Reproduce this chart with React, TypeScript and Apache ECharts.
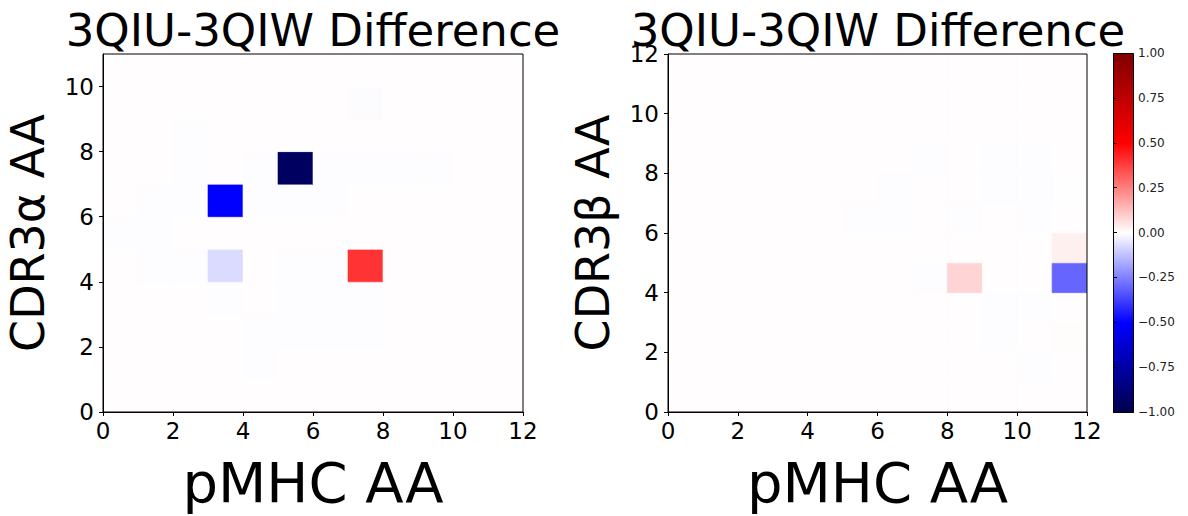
import React, { useEffect, useRef } from "react";
import * as echarts from "echarts";

// ---- data ----
const TITLE = "3QIU-3QIW Difference";
const X_NAME = "pMHC AA";
const Y_NAME_LEFT = "CDR3α AA";
const Y_NAME_RIGHT = "CDR3β AA";

// rows indexed by y (bottom row first), 12 columns (x = 0..11)
const leftMatrix: number[][] = [
  [0.003, 0.003, 0.003, 0.003, 0.003, 0.003, 0.003, 0.003, 0.003, 0.003, 0.003, 0.003],
  [0.003, 0.003, 0.003, 0.003, -0.004, 0.003, 0.003, 0.003, 0.003, 0.003, 0.003, 0.003],
  [0.003, 0.003, 0.003, 0.003, -0.004, -0.004, -0.004, -0.004, 0.003, 0.003, 0.003, 0.003],
  [0.003, 0.003, 0.003, -0.004, 0.003, -0.004, -0.004, -0.004, 0.003, 0.003, 0.003, 0.003],
  [0.003, -0.004, -0.004, -0.07, 0.003, -0.004, -0.004, 0.4, 0.003, 0.003, 0.003, 0.003],
  [-0.004, -0.004, 0.003, 0.003, 0.003, 0.003, 0.003, 0.003, 0.003, 0.003, 0.003, 0.003],
  [0.003, -0.004, -0.004, -0.5, -0.004, -0.004, -0.004, 0.003, 0.003, 0.003, 0.003, 0.003],
  [0.003, 0.003, -0.004, 0.003, -0.003, -0.94, -0.004, -0.004, -0.004, -0.004, 0.003, 0.003],
  [0.003, 0.003, -0.004, 0.003, 0.003, 0.003, 0.003, 0.003, 0.003, 0.003, 0.003, 0.003],
  [0.003, 0.003, 0.003, 0.003, 0.003, 0.003, 0.003, -0.006, 0.003, 0.003, 0.003, 0.003],
  [0.003, 0.003, 0.003, 0.003, 0.003, 0.003, 0.003, 0.003, 0.003, 0.003, 0.003, 0.003],
];

const rightMatrix: number[][] = [
  [0.003, 0.003, 0.003, 0.003, 0.003, 0.003, 0.003, 0.003, 0.003, 0.003, 0.003, 0.003],
  [0.003, 0.003, 0.003, 0.003, 0.003, 0.003, 0.003, 0.003, 0.003, 0.003, -0.004, 0.003],
  [0.003, 0.003, 0.003, 0.003, 0.003, 0.003, 0.003, 0.003, 0.003, -0.004, 0.003, 0.006],
  [0.003, 0.003, 0.003, 0.003, 0.003, 0.003, 0.003, 0.003, 0.003, -0.004, -0.004, 0.003],
  [0.003, 0.003, 0.003, 0.003, 0.003, 0.003, 0.003, -0.004, 0.085, 0.003, 0.003, -0.3],
  [0.003, 0.003, 0.003, 0.003, 0.003, 0.003, 0.003, 0.003, 0.003, 0.003, 0.003, 0.03],
  [0.003, 0.003, 0.003, 0.003, 0.003, -0.004, -0.004, 0.003, -0.004, 0.003, -0.004, 0.003],
  [0.003, 0.003, 0.003, 0.003, 0.003, 0.003, -0.004, 0.003, 0.003, -0.004, -0.004, -0.002],
  [0.003, 0.003, 0.003, 0.003, 0.003, 0.003, 0.003, -0.004, 0.003, -0.004, -0.004, 0.003],
  [0.003, 0.003, 0.003, 0.003, 0.003, 0.003, 0.003, 0.003, 0.003, 0.003, 0.003, 0.003],
  [0.003, 0.003, 0.003, 0.003, 0.003, 0.003, 0.003, 0.003, 0.003, 0.003, 0.003, 0.003],
  [0.003, 0.003, 0.003, 0.003, 0.003, 0.003, 0.003, 0.003, 0.003, 0.003, 0.003, 0.003],
];

const X_MAX = 12;
const LEFT_Y_MAX = 11;
const RIGHT_Y_MAX = 12;
const SEISMIC = ["#00004c", "#0000ff", "#ffffff", "#ff0000", "#7f0000"];
const CBAR_MIN = -1;
const CBAR_MAX = 1;
const CBAR_STEP = 0.25;

const FONT = "DejaVu Sans";

function toTriples(m: number[][]) {
  const out: number[][] = [];
  m.forEach((row, y) => row.forEach((v, x) => out.push([x, y, v])));
  return out;
}

const renderCell = (params: any, api: any) => {
  const x = api.value(0);
  const y = api.value(1);
  const p0 = api.coord([x, y + 1]);
  const p1 = api.coord([x + 1, y]);
  const c = api.visual("color");
  return {
    type: "rect",
    shape: { x: p0[0], y: p0[1], width: p1[0] - p0[0], height: p1[1] - p0[1] },
    style: { fill: c, stroke: c, lineWidth: 0.6 },
  };
};

export default function App() {
  const ref = useRef<HTMLDivElement>(null);
  useEffect(() => {
    if (!ref.current) return;
    const chart = echarts.init(ref.current, null, { renderer: "svg" });

    const tickLabel = { fontFamily: FONT, fontSize: 23, color: "#000" };
    const mkLine = () => ({ show: true, onZero: false, lineStyle: { color: "#000", width: 1 } });
    const mkTick = () => ({ show: true, inside: false, length: 4, lineStyle: { color: "#000", width: 1 } });

    const mkX = (gi: number) => ({
      type: "value", gridIndex: gi, min: 0, max: X_MAX, interval: 2, position: "bottom", z: 10,
      name: X_NAME, nameLocation: "middle", nameGap: 42,
      nameTextStyle: { fontFamily: FONT, fontSize: 56, color: "#000", verticalAlign: "top" },
      axisLine: mkLine(), axisTick: mkTick(), splitLine: { show: false },
      axisLabel: { ...tickLabel, margin: 7 },
    });
    const mkY = (gi: number, max: number, name: string) => ({
      type: "value", gridIndex: gi, min: 0, max, interval: 2, position: "left", z: 10,
      name, nameLocation: "middle", nameGap: 52, nameRotate: 90,
      nameTextStyle: { fontFamily: FONT, fontSize: 46, color: "#000" },
      axisLine: mkLine(), axisTick: mkTick(), splitLine: { show: false },
      axisLabel: { ...tickLabel, margin: 9, showMaxLabel: max % 2 === 0 },
    });

    const titleStyle = { fontFamily: FONT, fontSize: 45, fontWeight: "normal", color: "#000" };
    const frame = { show: true, borderColor: "#000", borderWidth: 1, backgroundColor: "transparent", z: 5 };
    const option: any = {
      animation: false,
      backgroundColor: "#ffffff",
      title: [
        { text: TITLE, left: 308, top: 3, textAlign: "center", textStyle: titleStyle },
        { text: TITLE, left: 873, top: 3, textAlign: "center", textStyle: titleStyle },
      ],
      grid: [
        { left: 103, top: 54, width: 420, height: 358, ...frame },
        { left: 668, top: 54, width: 419, height: 358, ...frame },
        { left: 1113, top: 53, width: 20, height: 359 },
      ],
      xAxis: [
        mkX(0),
        mkX(1),
        { type: "value", gridIndex: 2, min: 0, max: 1, show: false },
      ],
      yAxis: [
        mkY(0, LEFT_Y_MAX, Y_NAME_LEFT),
        mkY(1, RIGHT_Y_MAX, Y_NAME_RIGHT),
        {
          type: "value", gridIndex: 2, min: CBAR_MIN, max: CBAR_MAX, interval: CBAR_STEP, position: "right", z: 10,
          axisLine: { show: false }, splitLine: { show: false },
          axisTick: { show: true, length: 4, lineStyle: { color: "#000", width: 1 } },
          axisLabel: {
            fontFamily: FONT, fontSize: 12, color: "#222", margin: 5,
            formatter: (v: number) => v.toFixed(2).replace("-", "\u2212"),
          },
        },
      ],
      visualMap: {
        type: "continuous", show: false, min: CBAR_MIN, max: CBAR_MAX, dimension: 2,
        seriesIndex: [0, 1], inRange: { color: SEISMIC },
      },
      graphic: [
        {
          type: "rect", left: 1113, top: 53, z: 5,
          shape: { width: 20, height: 359 },
          style: {
            fill: new echarts.graphic.LinearGradient(0, 0, 0, 1,
              SEISMIC.slice().reverse().map((c, i) => ({ offset: i / (SEISMIC.length - 1), color: c }))),
            stroke: "#000", lineWidth: 1,
          },
        },
      ],
      series: [
        { type: "custom", xAxisIndex: 0, yAxisIndex: 0, z: 2, data: toTriples(leftMatrix), renderItem: renderCell, encode: { x: 0, y: 1 }, clip: true },
        { type: "custom", xAxisIndex: 1, yAxisIndex: 1, z: 2, data: toTriples(rightMatrix), renderItem: renderCell, encode: { x: 0, y: 1 }, clip: true },
      ],
    };
    chart.setOption(option);
    return () => chart.dispose();
  }, []);
  return (
    <div
      ref={ref}
      style={{ position: "fixed", left: 0, top: 0, width: 1188, height: 516, background: "#fff" }}
    />
  );
}
